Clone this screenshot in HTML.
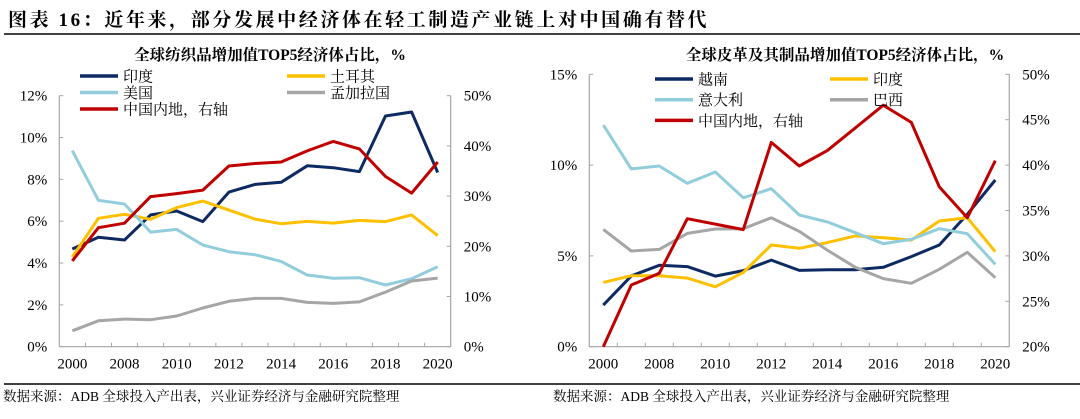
<!DOCTYPE html>
<html><head><meta charset="utf-8">
<style>
html,body{margin:0;padding:0;background:#fff;}
body{width:1080px;height:414px;overflow:hidden;position:relative;font-family:"Liberation Serif","Noto Serif CJK SC",serif;}
svg text{font-family:"Liberation Serif","Noto Serif CJK SC",serif;}
</style></head>
<body>
<svg id="chart" width="1080" height="414" viewBox="0 0 1080 414">
<text x="8" y="26" font-size="19" font-weight="bold" letter-spacing="2.6" fill="#000">图表 16：近年来，部分发展中经济体在轻工制造产业链上对中国确有替代</text>
<line x1="4" y1="34" x2="1080" y2="34" stroke="#000" stroke-width="1.5"/>
<line x1="4" y1="384" x2="1080" y2="384" stroke="#000" stroke-width="1.5"/>
<text x="3" y="401" font-size="13.5" fill="#000">数据来源：ADB 全球投入产出表，兴业证券经济与金融研究院整理</text>
<text x="553" y="401" font-size="13.5" fill="#000">数据来源：ADB 全球投入产出表，兴业证券经济与金融研究院整理</text>
</svg>
<script>
const categories = ['2000','2007','2008','2009','2010','2011','2012','2013','2014','2015','2016','2017','2018','2019','2020'];
const xLabels = ['2000','2008','2010','2012','2014','2016','2018','2020'];
// left chart (textiles)
const textileIndia = [4.67,5.23,5.1,6.3,6.49,5.98,7.39,7.76,7.86,8.65,8.56,8.37,11.03,11.22,8.33];
const textileTurkey = [4.29,6.14,6.33,6.09,6.65,6.96,6.53,6.1,5.88,5.99,5.91,6.04,5.98,6.3,5.31];
const textileUSA = [9.37,7.0,6.82,5.48,5.61,4.86,4.54,4.4,4.08,3.43,3.27,3.3,2.95,3.25,3.82];
const textileBangladesh = [0.76,1.24,1.32,1.29,1.47,1.85,2.17,2.31,2.31,2.12,2.07,2.14,2.61,3.14,3.28];
const textileChina = [17.1,23.7,24.6,29.9,30.5,31.2,36.0,36.5,36.8,39.0,40.9,39.4,33.9,30.6,36.8];
const textileLeftTicks = [0,2,4,6,8,10,12];
const textileRightTicks = [0,10,20,30,40,50];
// right chart (leather)
const leatherVietnam = [2.29,3.9,4.48,4.41,3.89,4.19,4.77,4.2,4.24,4.24,4.37,4.96,5.6,7.29,9.18];
const leatherIndia = [3.54,3.91,3.91,3.78,3.3,4.09,5.6,5.42,5.73,6.1,6.0,5.87,6.92,7.1,5.23];
const leatherItaly = [12.21,9.79,9.95,9.0,9.62,8.2,8.7,7.25,6.87,6.28,5.67,5.91,6.5,6.22,4.53];
const leatherBrazil = [6.46,5.27,5.36,6.24,6.48,6.5,7.1,6.35,5.32,4.37,3.75,3.49,4.26,5.2,3.8];
const leatherChina = [20.0,26.8,28.1,34.1,33.5,32.9,42.5,39.9,41.6,44.1,46.6,44.7,37.6,34.2,40.5];
const leatherLeftTicks = [0,5,10,15];
const leatherRightTicks = [20,25,30,35,40,45,50];

const NS='http://www.w3.org/2000/svg';
const svg=document.getElementById('chart');
function mk(tag,attrs,parent){const e=document.createElementNS(NS,tag);for(const k in attrs)e.setAttribute(k,attrs[k]);(parent||svg).appendChild(e);return e;}

function drawChart(cfg){
  const g=mk('g',{});
  
  
  const band=(cfg.x1-cfg.x0)/categories.length;
  const xs=i=>cfg.x0+band*(i+0.5);
  const yL=v=>cfg.yb-(v-cfg.lmin)/(cfg.lmax-cfg.lmin)*(cfg.yb-cfg.yt);
  const yR=v=>cfg.yb-(v-cfg.rmin)/(cfg.rmax-cfg.rmin)*(cfg.yb-cfg.yt);
  const ax='#a6a6a6';
  const t=mk('text',{x:cfg.titleX,y:cfg.titleY,'font-size':15.5,'font-weight':'bold','text-anchor':'middle'},g);
  t.textContent=cfg.title;
  
  
  const la=mk('line',{x1:cfg.x0,y1:cfg.yt,x2:cfg.x0,y2:cfg.yb,stroke:ax,'stroke-width':1.2},g);
  
  
  const ra=mk('line',{x1:cfg.x1,y1:cfg.yt,x2:cfg.x1,y2:cfg.yb,stroke:ax,'stroke-width':1.2},g);
  
  
  const xa=mk('line',{x1:cfg.x0,y1:cfg.yb,x2:cfg.x1,y2:cfg.yb,stroke:ax,'stroke-width':1.2},g);
  
  
  for(let i=1;i<categories.length;i++){
    const x=cfg.x0+band*i;
    const tk=mk('line',{x1:x,y1:cfg.yb,x2:x,y2:cfg.yb-4,stroke:ax,'stroke-width':1},g);
    
    
  }
  for(let i=0;i<categories.length;i+=2){
    const lb=mk('text',{x:xs(i),y:cfg.yb+22,'font-size':15,'text-anchor':'middle'},g);
    lb.textContent=xLabels[i/2];
    
    
  }
  cfg.lt.forEach(v=>{
    const y=yL(v);
    const tk=mk('line',{x1:cfg.x0,y1:y,x2:cfg.x0+4,y2:y,stroke:ax,'stroke-width':1},g);
    
    
    const lb=mk('text',{x:cfg.x0-12,y:y+5,'font-size':15,'text-anchor':'end'},g);
    lb.textContent=v+'%';
    
    
  });
  cfg.rt.forEach(v=>{
    const y=yR(v);
    const tk=mk('line',{x1:cfg.x1-4,y1:y,x2:cfg.x1,y2:y,stroke:ax,'stroke-width':1},g);
    
    
    const lb=mk('text',{x:cfg.x1+13,y:y+5,'font-size':15,'text-anchor':'start'},g);
    lb.textContent=v+'%';
    
    
  });
  cfg.series.forEach(s=>{
    const sc=s.right?yR:yL;
    const pts=s.data.map((v,i)=>xs(i).toFixed(1)+','+sc(v).toFixed(1)).join(' ');
    const pl=mk('polyline',{points:pts,fill:'none',stroke:s.color,'stroke-width':3,'stroke-linejoin':'round'},g);
    
    
  });
  cfg.series.forEach((s,k)=>{
    const col=k%2, row=Math.floor(k/2);
    const lx=cfg.legX[col], ly=cfg.legY+row*cfg.legDy;
    const lg=mk('g',{},g);
    
    
    mk('line',{x1:lx,y1:ly,x2:lx+38,y2:ly,stroke:s.color,'stroke-width':3.5},lg);
    const tx=mk('text',{x:lx+43,y:ly+5.5,'font-size':15},lg);
    tx.textContent=s.label;
  });
}

drawChart({name:'textile-chart',title:'全球纺织品增加值TOP5经济体占比，%',titleX:270,titleY:60,
  x0:59.3,x1:450.7,yt:95.7,yb:346.7,lmin:0,lmax:12,rmin:0,rmax:50,lt:textileLeftTicks,rt:textileRightTicks,
  legX:[80,287],legY:76,legDy:16.5,
  series:[
    {id:'india',label:'印度',data:textileIndia,color:'#0d2a63'},
    {id:'turkey',label:'土耳其',data:textileTurkey,color:'#ffc000'},
    {id:'usa',label:'美国',data:textileUSA,color:'#92cddc'},
    {id:'bangladesh',label:'孟加拉国',data:textileBangladesh,color:'#a6a6a6'},
    {id:'china',label:'中国内地，右轴',data:textileChina,color:'#c00000',right:true}
  ]});
drawChart({name:'leather-chart',title:'全球皮革及其制品增加值TOP5经济体占比，%',titleX:845,titleY:60,
  x0:589.3,x1:1009.3,yt:74.3,yb:346.7,lmin:0,lmax:15,rmin:20,rmax:50,lt:leatherLeftTicks,rt:leatherRightTicks,
  legX:[655,830],legY:79,legDy:20.7,
  series:[
    {id:'vietnam',label:'越南',data:leatherVietnam,color:'#0d2a63'},
    {id:'india',label:'印度',data:leatherIndia,color:'#ffc000'},
    {id:'italy',label:'意大利',data:leatherItaly,color:'#92cddc'},
    {id:'brazil',label:'巴西',data:leatherBrazil,color:'#a6a6a6'},
    {id:'china',label:'中国内地，右轴',data:leatherChina,color:'#c00000',right:true}
  ]});
</script>
</body></html>
